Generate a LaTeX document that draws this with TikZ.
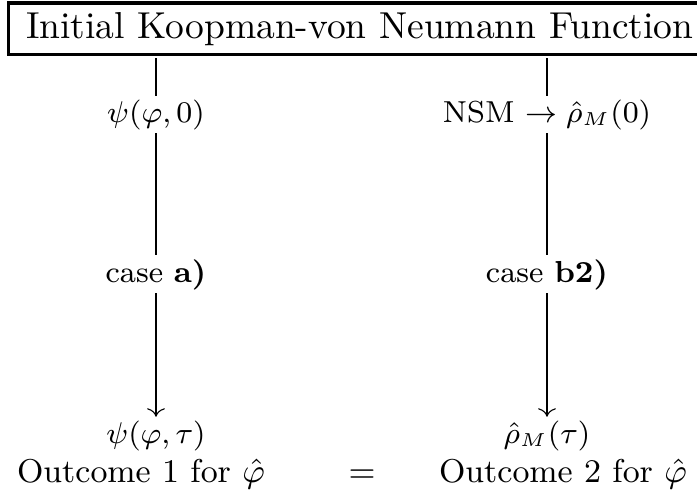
\documentclass[tikz,border=0pt]{standalone}
\usepackage{amsmath, amssymb}
\usepackage{tikz}
\usetikzlibrary{positioning, arrows.meta}

\begin{document}
\begin{tikzpicture}[x=0.26667pt, y=-0.26667pt, every node/.style={inner sep=0pt, outer sep=1pt}, stage/.style={anchor=base, font=\fontsize{8.1pt}{10pt}\selectfont}, outcome/.style={anchor=base, font=\fontsize{8.8pt}{10pt}\selectfont}, flow/.style={line width=0.3pt}]
    \useasboundingbox (0,0) rectangle (697,494);
    \clip (0,0) rectangle (697,494);
    \node[draw, line width=0.9pt, minimum width=187.2pt, inner ysep=2.4pt, anchor=base west] (init) at (5,38) {Initial Koopman-von Neumann Function};
    % left branch
    \node[stage] (psiA) at (156,122) {$\psi(\varphi,0)$};
    \node[stage] (caseA) at (156,282) {case \textbf{a)}};
    \node[stage] (psiB) at (156,443) {$\psi(\varphi,\tau)$};
    \node[outcome] (outA) at (141,482) {Outcome 1 for $\hat{\varphi}$};
    % right branch
    \node[stage] (rhoA) at (547,122) {NSM $\rightarrow \hat{\rho}_{\scriptscriptstyle M}(0)$};
    \node[stage] (caseB) at (547,282) {case \textbf{b2)}};
    \node[stage] (rhoB) at (547,443) {$\hat{\rho}_{\scriptscriptstyle M}(\tau)$};
    \node[outcome] (outB) at (563,482) {Outcome 2 for $\hat{\varphi}$};
    \node[outcome] (eq) at (362,482) {$=$};
    \draw[flow] (psiA) -- (psiA |- init.south);
    \draw[flow] (psiA) -- (caseA);
    \draw[flow, ->] (caseA) -- (psiB);
    \draw[flow] (rhoA) -- (rhoA |- init.south);
    \draw[flow] (rhoA) -- (caseB);
    \draw[flow, ->] (caseB) -- (rhoB);
\end{tikzpicture}
\end{document}
